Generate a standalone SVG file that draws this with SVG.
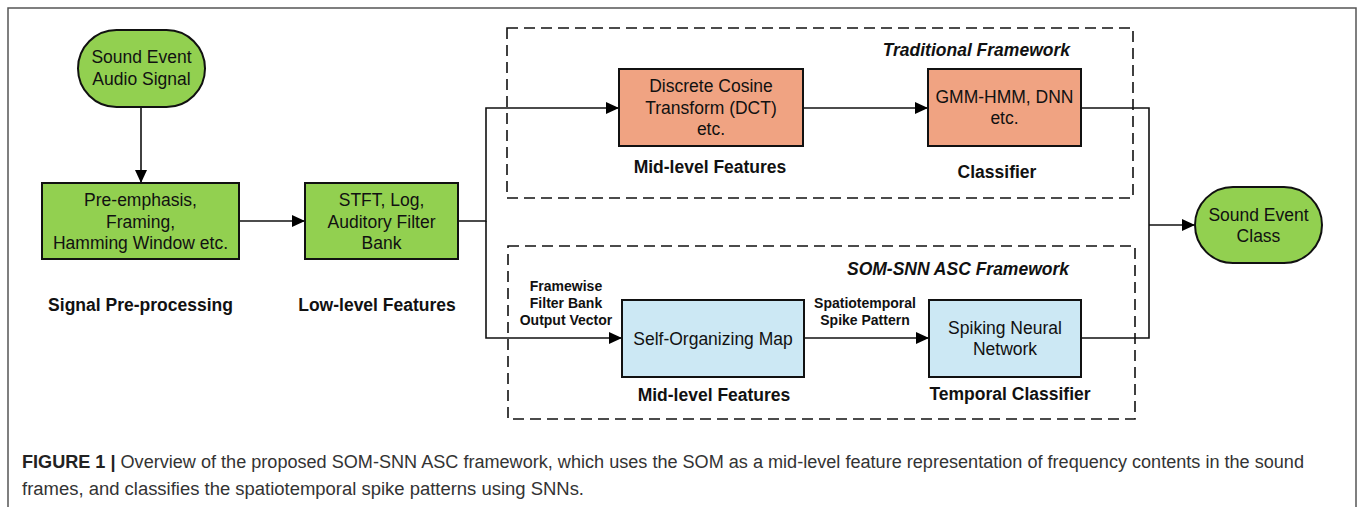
<svg xmlns="http://www.w3.org/2000/svg" width="1358" height="507" viewBox="0 0 1358 507">
<defs>
<marker id="arr" markerWidth="14" markerHeight="12" refX="13" refY="6" orient="auto" markerUnits="userSpaceOnUse">
<path d="M0,0 L13,6 L0,12 Z" fill="#000"/>
</marker>
<style>
.t{font-family:"Liberation Sans",Arial,sans-serif;font-size:17.5px;fill:#111;text-anchor:middle}
.b{font-family:"Liberation Sans",Arial,sans-serif;font-size:17.5px;font-weight:bold;fill:#111;text-anchor:middle}
.bi{font-family:"Liberation Sans",Arial,sans-serif;font-size:17.5px;font-weight:bold;font-style:italic;fill:#111;text-anchor:end}
.s{font-family:"Liberation Sans",Arial,sans-serif;font-size:14px;font-weight:bold;fill:#111;text-anchor:middle}
.cap{font-family:"Liberation Sans",Arial,sans-serif;font-size:18px;fill:#333}
.g{fill:#92d050;stroke:#111;stroke-width:2}
.o{fill:#f0a382;stroke:#111;stroke-width:2}
.l{fill:#cce8f4;stroke:#111;stroke-width:2}
.dash{fill:none;stroke:#111;stroke-width:1.6;stroke-dasharray:11,6}
.c{fill:none;stroke:#111;stroke-width:1.6}
</style>
</defs>
<rect width="1358" height="507" fill="#fff"/>
<path d="M8,515 V8 H1356 V515" fill="none" stroke="#555" stroke-width="1.5"/>

<g id="frame-traditional">
<rect class="dash" x="507" y="28" width="626" height="170"/>
<text class="bi" x="1070" y="56">Traditional Framework</text>
</g>
<g id="frame-somsnn">
<rect class="dash" x="508" y="246" width="627" height="173"/>
<text class="bi" x="1069" y="275">SOM-SNN ASC Framework</text>
</g>

<g id="connectors">
<line class="c" x1="141" y1="107" x2="141" y2="183" marker-end="url(#arr)"/>
<line class="c" x1="239" y1="221" x2="305" y2="221" marker-end="url(#arr)"/>
<polyline class="c" points="458,221 486,221 486,108 619,108" marker-end="url(#arr)"/>
<polyline class="c" points="486,221 486,338 622,338" marker-end="url(#arr)"/>
<line class="c" x1="803" y1="108" x2="928" y2="108" marker-end="url(#arr)"/>
<line class="c" x1="804" y1="338" x2="929" y2="338" marker-end="url(#arr)"/>
<polyline class="c" points="1081,108 1149,108 1149,338 1081,338"/>
<line class="c" x1="1149" y1="225" x2="1195" y2="225" marker-end="url(#arr)"/>
<g id="edge-labels">
<text class="s" x="566" y="291">Framewise</text>
<text class="s" x="566" y="308">Filter Bank</text>
<text class="s" x="566" y="325">Output Vector</text>
<text class="s" x="865" y="308">Spatiotemporal</text>
<text class="s" x="865" y="325">Spike Pattern</text>
</g>
</g>

<g id="audio-signal">
<rect class="g" x="78" y="30" width="127" height="77" rx="38.5" ry="38.5"/>
<text class="t" x="141.5" y="63">Sound Event</text>
<text class="t" x="141.5" y="85">Audio Signal</text>
</g>
<g id="preprocessing">
<rect class="g" x="42" y="183" width="197" height="76"/>
<text class="t" x="140.5" y="206">Pre-emphasis,</text>
<text class="t" x="140.5" y="227.5">Framing,</text>
<text class="t" x="140.5" y="249">Hamming Window etc.</text>
<text class="b" x="140.5" y="311">Signal Pre-processing</text>
</g>
<g id="low-level">
<rect class="g" x="305" y="183" width="153" height="76"/>
<text class="t" x="381.5" y="206">STFT, Log,</text>
<text class="t" x="381.5" y="227.5">Auditory Filter</text>
<text class="t" x="381.5" y="249">Bank</text>
<text class="b" x="377" y="311">Low-level Features</text>
</g>
<g id="dct">
<rect class="o" x="619" y="69" width="184" height="77"/>
<text class="t" x="711" y="92">Discrete Cosine</text>
<text class="t" x="711" y="113.5">Transform (DCT)</text>
<text class="t" x="711" y="135">etc.</text>
<text class="b" x="710" y="173">Mid-level Features</text>
</g>
<g id="gmm">
<rect class="o" x="928" y="69" width="153" height="77"/>
<text class="t" x="1004.5" y="103">GMM-HMM, DNN</text>
<text class="t" x="1004.5" y="124">etc.</text>
<text class="b" x="997" y="178">Classifier</text>
</g>
<g id="som">
<rect class="l" x="622" y="300" width="182" height="77"/>
<text class="t" x="713" y="345">Self-Organizing Map</text>
<text class="b" x="714" y="401">Mid-level Features</text>
</g>
<g id="snn">
<rect class="l" x="929" y="300" width="152" height="77"/>
<text class="t" x="1005" y="334">Spiking Neural</text>
<text class="t" x="1005" y="355">Network</text>
<text class="b" x="1010" y="400">Temporal Classifier</text>
</g>
<g id="output-class">
<rect class="g" x="1195" y="187" width="127" height="76" rx="38" ry="38"/>
<text class="t" x="1258.5" y="221">Sound Event</text>
<text class="t" x="1258.5" y="242">Class</text>
</g>

<g id="caption">
<text class="cap" x="22" y="468" textLength="1282" lengthAdjust="spacingAndGlyphs"><tspan font-weight="bold" fill="#222">FIGURE 1 |</tspan> Overview of the proposed SOM-SNN ASC framework, which uses the SOM as a mid-level feature representation of frequency contents in the sound</text>
<text class="cap" x="22" y="495" textLength="562" lengthAdjust="spacingAndGlyphs">frames, and classifies the spatiotemporal spike patterns using SNNs.</text>
</g>
</svg>
